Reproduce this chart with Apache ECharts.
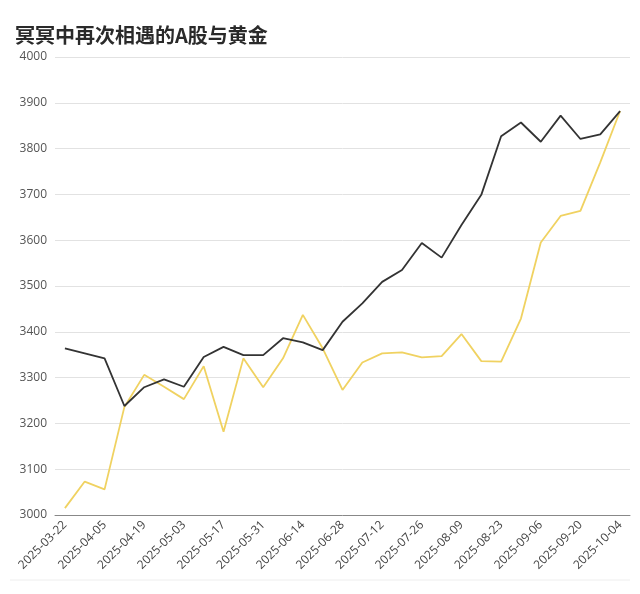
<!DOCTYPE html>
<html><head><meta charset="utf-8">
<script src="https://cdn.jsdelivr.net/npm/echarts@6/dist/echarts.min.js"></script>
<style>html,body{margin:0;padding:0;background:#fff}#c{width:640px;height:594px}</style>
</head><body><div id="c"></div>
<script>
const titleText = '冥冥中再次相遇的A股与黄金';
const categories = ['2025-03-22','2025-03-29','2025-04-05','2025-04-12','2025-04-19','2025-04-26','2025-05-03','2025-05-10','2025-05-17','2025-05-24','2025-05-31','2025-06-07','2025-06-14','2025-06-21','2025-06-28','2025-07-05','2025-07-12','2025-07-19','2025-07-26','2025-08-02','2025-08-09','2025-08-16','2025-08-23','2025-08-30','2025-09-06','2025-09-13','2025-09-20','2025-09-27','2025-10-04'];
const stockValues = [3364,3353,3342,3238,3279,3296,3280,3345,3367,3349,3349,3386,3377,3360,3422,3462,3509,3535,3594,3562,3633,3699,3827,3857,3815,3872,3821,3831,3882];
const goldValues = [3015,3073,3056,3236,3306,3280,3253,3325,3182,3342,3279,3342,3437,3364,3273,3333,3353,3355,3344,3347,3395,3336,3335,3429,3595,3653,3664,3770,3882];
const yTicks = {min:3000, max:4000, interval:100};

const chart = echarts.init(document.getElementById('c'));
chart.setOption({
  backgroundColor:'#fff',
  animation:false,
  title:{text:titleText,left:10,top:20,textStyle:{fontSize:20,fontWeight:'bold',color:'#2a2a2a',fontFamily:'Noto Sans CJK SC'}},
  grid:{left:55,right:10,top:57,bottom:79},
  xAxis:{type:'category',data:categories,boundaryGap:true,
    axisLine:{lineStyle:{color:'#888'}},
    axisTick:{alignWithLabel:true,interval:1,lineStyle:{color:'#888'}},
    axisLabel:{interval:1,rotate:45,fontSize:12,color:'#444',margin:8,fontFamily:'Open Sans'}},
  yAxis:{type:'value',min:yTicks.min,max:yTicks.max,interval:yTicks.interval,
    axisLine:{show:false},axisTick:{show:false},
    axisLabel:{fontSize:12,color:'#555',margin:8,fontFamily:'Open Sans',formatter:v=>String(v)},
    splitLine:{lineStyle:{color:'#e2e2e2'}}},
  graphic:[{type:'line',shape:{x1:10,y1:580,x2:630,y2:580},style:{stroke:'#eeeeee',lineWidth:1}}],
  series:[
    {name:'黄金',type:'line',data:goldValues,symbol:'none',lineStyle:{color:'#f0d261',width:1.8}},
    {name:'A股',type:'line',data:stockValues,symbol:'none',lineStyle:{color:'#333333',width:1.8}}
  ]
});
</script></body></html>
